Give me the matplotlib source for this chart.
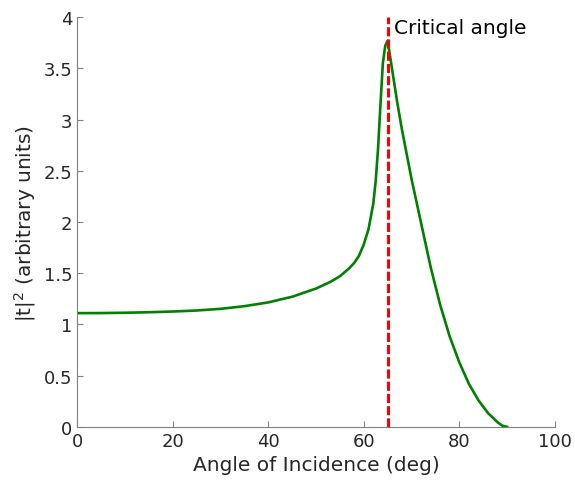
import numpy as np
import matplotlib.pyplot as plt

# angle of incidence (deg) and transmitted intensity
angle = [0, 5, 10, 15, 20, 25, 30, 35, 40, 45, 50, 53, 55, 57, 58, 59, 60, 61, 62, 62.5, 63, 63.5, 64, 64.5, 65,
         66, 67, 68, 70, 72, 74, 76, 78, 80, 82, 84, 86, 88, 89, 90]
t2 = [1.11, 1.111, 1.114, 1.119, 1.126, 1.136, 1.152, 1.178, 1.215, 1.27, 1.35, 1.415, 1.47, 1.55, 1.60, 1.67,
      1.78, 1.93, 2.18, 2.40, 2.72, 3.15, 3.55, 3.72, 3.77,
      3.47, 3.17, 2.90, 2.42, 1.99, 1.56, 1.19, 0.88, 0.63, 0.42, 0.26, 0.135, 0.045, 0.012, 0.0]
crit_angle = 65.1

gray = '#262626'
plt.rcParams['font.family'] = 'DejaVu Sans'

fig = plt.figure(figsize=(5.75, 4.89), dpi=100)
ax = fig.add_axes([0.134, 0.125, 0.831, 0.838])
ax.plot(angle, t2, color=(0, 0.5, 0), lw=1.9)
ax.axvline(crit_angle, color='red', ls=(0, (3.0, 1.0)), lw=2.2)
ax.text(crit_angle + 1.3, 3.9, 'Critical angle', fontsize=14.5, va='center', ha='left', color='black')

ax.set_xlim(0, 100)
ax.set_ylim(0, 4)
ax.set_xticks([0, 20, 40, 60, 80, 100])
ax.set_yticks([0, 0.5, 1, 1.5, 2, 2.5, 3, 3.5, 4])
ax.set_yticklabels(['0', '0.5', '1', '1.5', '2', '2.5', '3', '3.5', '4'])
ax.spines['top'].set_visible(False)
ax.spines['right'].set_visible(False)
for s in ['left', 'bottom']:
    ax.spines[s].set_color('#808080')
ax.tick_params(direction='in', length=4, colors='#808080', labelcolor=gray, labelsize=13)
ax.set_xlabel('Angle of Incidence (deg)', fontsize=14.5, color=gray)
ax.set_ylabel('|t|$^2$ (arbitrary units)', fontsize=14.5, color=gray)

plt.savefig('out.png', dpi=100)
